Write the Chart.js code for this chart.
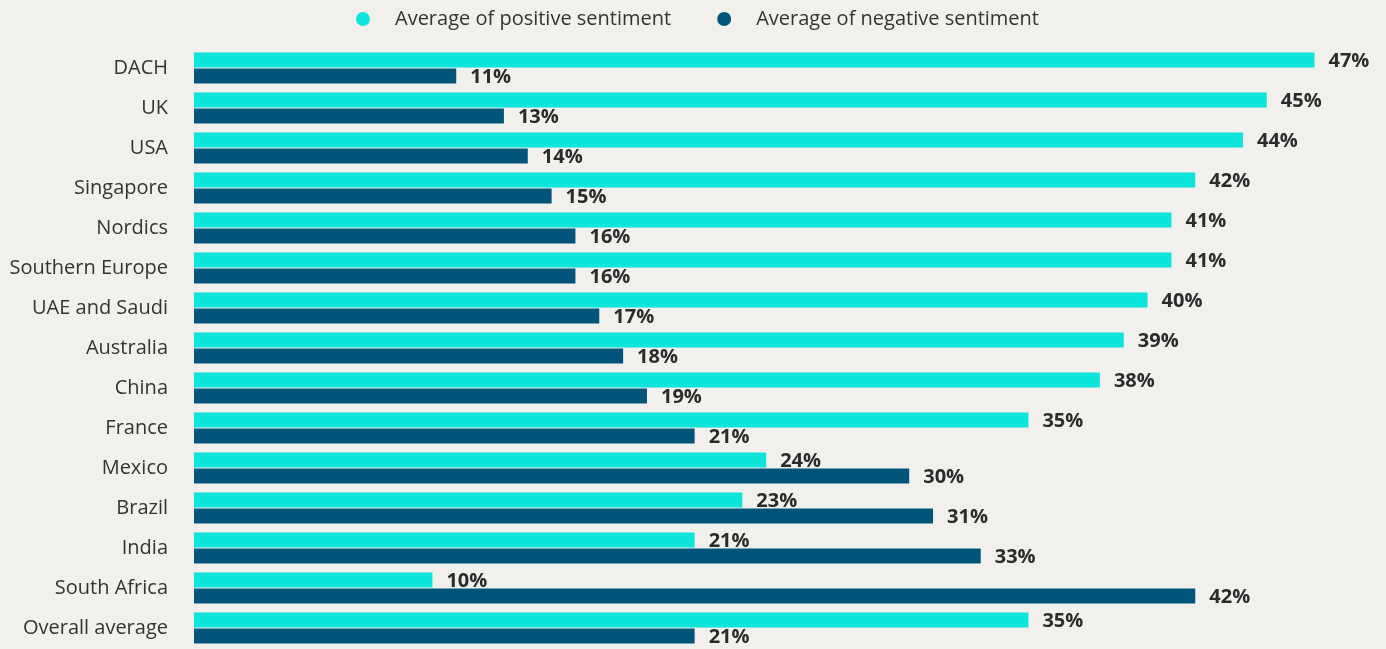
<!DOCTYPE html>
<html>
<head>
<meta charset="utf-8">
<script src="https://cdn.jsdelivr.net/npm/chart.js@4/dist/chart.umd.min.js"></script>
<style>
  html, body { margin: 0; padding: 0; background: #f1f0ec; overflow: hidden; }
  canvas { display: block; }
</style>
</head>
<body>
<canvas id="canvas" width="1386" height="649"></canvas>
<script>
var regions = ['DACH', 'UK', 'USA', 'Singapore', 'Nordics', 'Southern Europe', 'UAE and Saudi',
  'Australia', 'China', 'France', 'Mexico', 'Brazil', 'India', 'South Africa', 'Overall average'];
var positive = [47, 45, 44, 42, 41, 41, 40, 39, 38, 35, 24, 23, 21, 10, 35];
var negative = [11, 13, 14, 15, 16, 16, 17, 18, 19, 21, 30, 31, 33, 42, 21];

var FONT = '"Open Sans", "Noto Sans", sans-serif';
var CYAN = '#0de4da';
var NAVY = '#02557a';

// % value just past the end of each bar
var valueLabels = {
  id: 'valueLabels',
  afterDatasetsDraw: function (chart) {
    var ctx = chart.ctx;
    ctx.save();
    ctx.font = 'bold 20px ' + FONT;
    ctx.fillStyle = '#2b2b2b';
    ctx.textAlign = 'left';
    ctx.textBaseline = 'middle';
    chart.data.datasets.forEach(function (ds, i) {
      chart.getDatasetMeta(i).data.forEach(function (bar, j) {
        ctx.fillText(ds.data[j] + '%', bar.x + 14, bar.y + 1);
      });
    });
    ctx.restore();
  }
};

// legend row at the top, dots with a wide gap before the text
var topLegend = {
  id: 'topLegend',
  afterDraw: function (chart) {
    var ctx = chart.ctx;
    ctx.save();
    ctx.font = '20px ' + FONT;
    ctx.textBaseline = 'middle';
    var x = 363, y = 19;
    chart.data.datasets.forEach(function (ds) {
      ctx.fillStyle = ds.backgroundColor;
      ctx.beginPath();
      ctx.arc(x, y, 7, 0, Math.PI * 2);
      ctx.fill();
      ctx.fillStyle = '#333333';
      ctx.fillText(ds.label, x + 32, y);
      x = x + 32 + ctx.measureText(ds.label).width + 53;
    });
    ctx.restore();
  }
};

var chart = new Chart(document.getElementById('canvas'), {
  type: 'bar',
  data: {
    labels: regions,
    datasets: [
      {
        label: 'Average of positive sentiment',
        data: positive,
        backgroundColor: CYAN,
        barPercentage: 0.95,
        categoryPercentage: 0.8
      },
      {
        label: 'Average of negative sentiment',
        data: negative,
        backgroundColor: NAVY,
        barPercentage: 0.95,
        categoryPercentage: 0.8
      }
    ]
  },
  options: {
    indexAxis: 'y',
    responsive: false,
    animation: false,
    devicePixelRatio: 1,
    layout: { padding: { top: 48, right: 0, bottom: 1, left: 0 } },
    scales: {
      x: { display: false, min: 0, max: 50 },
      y: {
        grid: { display: false, drawTicks: false },
        border: { display: false },
        ticks: {
          color: '#333333',
          font: { family: FONT, size: 20 },
          padding: 26
        },
        afterFit: function (scale) {
          scale.width = 194;
          // tick padding otherwise eats space above and below the bars
          scale.paddingTop = 0;
          scale.paddingBottom = 0;
        }
      }
    },
    plugins: {
      legend: { display: false },
      tooltip: { enabled: false }
    }
  },
  plugins: [valueLabels, topLegend]
});
</script>
</body>
</html>
